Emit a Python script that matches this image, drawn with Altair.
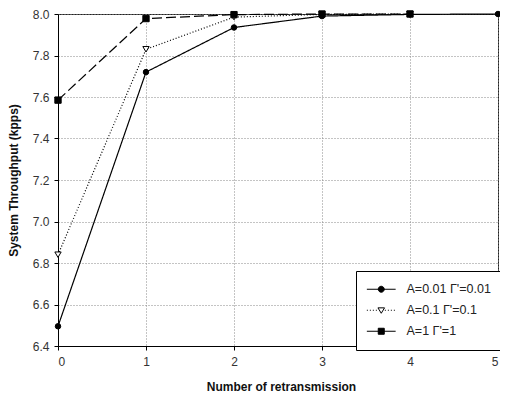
import altair as alt
import pandas as pd

x_vals = [0, 1, 2, 3, 4, 5]
s1_name = "A=0.01 Γ'=0.01"
s2_name = "A=0.1 Γ'=0.1"
s3_name = "A=1 Γ'=1"
s1 = [6.495, 7.72, 7.935, 7.99, 7.998, 8.0]
s2 = [6.84, 7.83, 7.985, 7.998, 8.0]
s3 = [7.585, 7.978, 7.997, 8.0, 8.0]
y_ticks = [6.4, 6.6, 6.8, 7.0, 7.2, 7.4, 7.6, 7.8, 8.0]

rows = []
for name, vals in [(s1_name, s1), (s2_name, s2), (s3_name, s3)]:
    for xv, yv in zip(x_vals, vals):
        rows.append({"x": xv, "y": yv, "series": name})
df = pd.DataFrame(rows)
order = [s1_name, s2_name, s3_name]

font = "Liberation Sans"
W, H = 440, 332
xenc = alt.X("x:Q", scale=alt.Scale(domain=[0, 5], nice=False),
             axis=alt.Axis(values=x_vals, format="d", title="Number of retransmission",
                           titleX=W / 2 + 3, titleY=40, titleBaseline="middle",
                           grid=True, gridDash=[1, 2], gridColor="#888",
                           domainColor="black", tickColor="black", tickSize=4,
                           labelPadding=6, labelFont=font, labelFontSize=12, labelColor="#333",
                           titleFont=font, titleFontSize=12, titleFontWeight="bold", titleColor="#111"))
yenc = alt.Y("y:Q", scale=alt.Scale(domain=[6.4, 8.0], nice=False, zero=False),
             axis=alt.Axis(values=y_ticks, format=".1f", title="System Throughput (kpps)",
                           titleX=-45, titleBaseline="middle",
                           grid=True, gridDash=[1, 2], gridColor="#888",
                           domainColor="black", tickColor="black", tickSize=4,
                           labelPadding=5, labelFont=font, labelFontSize=12, labelColor="#333",
                           titleFont=font, titleFontSize=12, titleFontWeight="bold", titleColor="#111"))

# legend symbol paths (unit square = marker; line extends beyond)
L = 4.8
solid_line = f"M{-L},0H{L}"
def dotted(a, b, on=0.34, off=0.66):
    parts = []
    p = a
    while p < b:
        parts.append(f"M{p:.2f},0H{min(p + on, b):.2f}")
        p += on + off
    return "".join(parts)
circle_p = solid_line + "M1,0A1,1,0,1,1,-1,0A1,1,0,1,1,1,0Z"
tri_p = dotted(-L, -1.2) + dotted(1.2, L) + "M-1.1,-0.8L1.1,-0.8L0,1Z"
square_p = solid_line + "M-1,-1H1V1H-1Z"

legend_layer = alt.Chart(df).transform_filter(alt.datum.x < -100).mark_point(
    filled=True, strokeWidth=1).encode(
    x="x:Q", y="y:Q",
    shape=alt.Shape("series:N", scale=alt.Scale(domain=order, range=[circle_p, tri_p, square_p]),
                    legend=alt.Legend(title=None, orient="none", legendX=298, legendY=257,
                                      strokeColor="black", padding=12, fillColor="white",
                                      labelFont=font, labelFontSize=12.5, labelColor="#222",
                                      labelLimit=200, rowPadding=8, offset=0,
                                      symbolSize=36, symbolOffset=7, labelOffset=19,
                                      symbolStrokeColor="black", symbolStrokeWidth=1,
                                      symbolOpacity=1)),
    fill=alt.Fill("series:N", scale=alt.Scale(domain=order, range=["black", "white", "black"])),
    stroke=alt.Stroke("series:N", scale=alt.Scale(domain=order, range=["black", "black", "black"])),
)

def line(name, dash):
    return alt.Chart(df).transform_filter(alt.datum.series == name).mark_line(
        color="black", strokeWidth=1.2, strokeDash=dash).encode(x=xenc, y=yenc)

def pts(name, shape, fill, size):
    return alt.Chart(df).transform_filter(alt.datum.series == name).mark_point(
        shape=shape, fill=fill, stroke="black", strokeWidth=1, size=size, opacity=1, filled=False
    ).encode(x="x:Q", y="y:Q")

chart = alt.layer(
    line(s1_name, [1, 0]),
    line(s2_name, [1, 2]),
    line(s3_name, [10, 4]),
    pts(s1_name, "circle", "black", 30),
    pts(s2_name, "triangle-down", "white", 40),
    pts(s3_name, "square", "black", 40),
    legend_layer,
).properties(
    width=W, height=H,
    autosize=alt.AutoSizeParams(type="none"),
    padding={"left": 50, "top": 6, "right": 2, "bottom": 48},
    background="white",
).configure_view(stroke="#222", strokeWidth=1)

chart.save("out.html", embed_options={"renderer": "svg", "actions": False})
